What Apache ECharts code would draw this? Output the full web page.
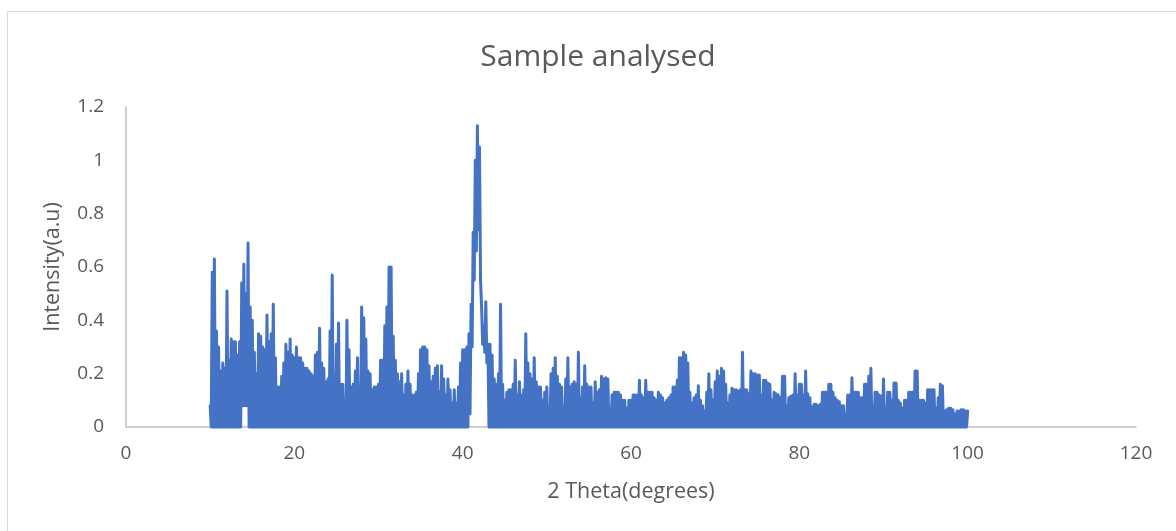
<!DOCTYPE html>
<html>
<head>
<meta charset="utf-8">
<title>Sample analysed</title>
<script src="https://cdn.jsdelivr.net/npm/echarts@6/dist/echarts.min.js"></script>
<style>
  html, body { margin: 0; padding: 0; background: #ffffff; }
  #chart { width: 1176px; height: 531px; }
</style>
</head>
<body>
<div id="chart"></div>
<script>
// Diffraction scan: 2θ from 10° to 100°, sampled every 0.25°.
const thetaStart = 10;
const thetaStep = 0.25;

// Local maxima at 10.00, 10.25, 10.50 ... 100.00 (one row per degree)
const peakIntensity = [
  0.08, 0.58, 0.63, 0.36,
  0.30, 0.21, 0.24, 0.22,
  0.51, 0.25, 0.33, 0.32,
  0.32, 0.27, 0.32, 0.54,
  0.61, 0.50, 0.69, 0.45,
  0.40, 0.28, 0.20, 0.35,
  0.34, 0.30, 0.29, 0.42,
  0.32, 0.35, 0.46, 0.26,
  0.15, 0.15, 0.19, 0.24,
  0.31, 0.28, 0.33, 0.27,
  0.26, 0.30, 0.26, 0.26,
  0.24, 0.22, 0.22, 0.21,
  0.20, 0.19, 0.27, 0.28,
  0.37, 0.24, 0.22, 0.17,
  0.18, 0.36, 0.57, 0.19,
  0.31, 0.39, 0.16, 0.16,
  0.10, 0.40, 0.29, 0.15,
  0.16, 0.21, 0.26, 0.15,
  0.45, 0.41, 0.33, 0.21,
  0.20, 0.14, 0.15, 0.15,
  0.16, 0.25, 0.25, 0.38,
  0.45, 0.60, 0.60, 0.34,
  0.25, 0.20, 0.17, 0.20,
  0.12, 0.16, 0.21, 0.16,
  0.12, 0.12, 0.13, 0.20,
  0.29, 0.30, 0.30, 0.29,
  0.23, 0.17, 0.19, 0.22,
  0.23, 0.13, 0.23, 0.18,
  0.12, 0.18, 0.14, 0.09,
  0.14, 0.09, 0.15, 0.24,
  0.29, 0.29, 0.30, 0.35,
  0.46, 0.73, 1.00, 1.13,
  1.05, 0.45, 0.38, 0.47,
  0.31, 0.31, 0.27, 0.18,
  0.16, 0.20, 0.46, 0.16,
  0.10, 0.13, 0.14, 0.14,
  0.16, 0.25, 0.12, 0.17,
  0.12, 0.14, 0.35, 0.24,
  0.20, 0.18, 0.26, 0.17,
  0.15, 0.15, 0.10, 0.13,
  0.15, 0.07, 0.20, 0.22,
  0.26, 0.19, 0.16, 0.15,
  0.07, 0.18, 0.26, 0.15,
  0.16, 0.17, 0.16, 0.28,
  0.11, 0.15, 0.23, 0.16,
  0.15, 0.15, 0.09, 0.17,
  0.13, 0.14, 0.19, 0.18,
  0.185, 0.18, 0.07, 0.12,
  0.13, 0.13, 0.13, 0.12,
  0.10, 0.10, 0.07, 0.10,
  0.10, 0.12, 0.12, 0.12,
  0.175, 0.12, 0.11, 0.175,
  0.13, 0.13, 0.13, 0.11,
  0.10, 0.13, 0.12, 0.11,
  0.09, 0.10, 0.11, 0.12,
  0.15, 0.15, 0.175, 0.26,
  0.26, 0.28, 0.27, 0.24,
  0.13, 0.09, 0.11, 0.12,
  0.155, 0.10, 0.08, 0.06,
  0.13, 0.20, 0.14, 0.10,
  0.17, 0.21, 0.19, 0.22,
  0.21, 0.16, 0.09, 0.12,
  0.145, 0.14, 0.14, 0.135,
  0.14, 0.28, 0.14, 0.14,
  0.125, 0.21, 0.20, 0.20,
  0.195, 0.195, 0.12, 0.175,
  0.175, 0.165, 0.16, 0.10,
  0.13, 0.125, 0.12, 0.11,
  0.19, 0.19, 0.08, 0.11,
  0.115, 0.12, 0.20, 0.12,
  0.16, 0.16, 0.12, 0.21,
  0.125, 0.11, 0.075, 0.085,
  0.085, 0.08, 0.085, 0.13,
  0.13, 0.13, 0.16, 0.16,
  0.13, 0.11, 0.10, 0.095,
  0.08, 0.08, 0.05, 0.12,
  0.12, 0.185, 0.13, 0.13,
  0.13, 0.11, 0.11, 0.16,
  0.16, 0.19, 0.22, 0.08,
  0.13, 0.13, 0.12, 0.115,
  0.18, 0.07, 0.13, 0.13,
  0.10, 0.165, 0.165, 0.10,
  0.09, 0.07, 0.10, 0.10,
  0.13, 0.13, 0.13, 0.21,
  0.21, 0.10, 0.10, 0.10,
  0.09, 0.14, 0.14, 0.14,
  0.14, 0.07, 0.11, 0.16,
  0.155, 0.06, 0.065, 0.07,
  0.07, 0.065, 0.05, 0.06,
  0.06, 0.065, 0.065, 0.06,
  0.06
];

// Local minima between the maxima, at 10.125, 10.375 ... 99.875 (one row per degree)
const valleyIntensity = [
  0, 0, 0, 0,   0, 0, 0, 0,   0, 0, 0, 0,   0, 0, 0, 0.08,   // 10-13
  0.08, 0.08, 0, 0,   0, 0, 0, 0,   0, 0, 0, 0,   0, 0, 0, 0, // 14-17
  0, 0, 0, 0,   0, 0, 0, 0,   0, 0, 0, 0,   0, 0, 0, 0,      // 18-21
  0, 0, 0, 0,   0, 0, 0, 0,   0, 0, 0, 0,   0, 0, 0, 0,      // 22-25
  0, 0, 0, 0,   0, 0, 0, 0,   0, 0, 0, 0,   0, 0, 0, 0,      // 26-29
  0, 0, 0, 0,   0, 0, 0, 0,   0, 0, 0, 0,   0, 0, 0, 0,      // 30-33
  0, 0, 0, 0,   0, 0, 0, 0,   0, 0, 0, 0,   0, 0, 0, 0,      // 34-37
  0, 0, 0, 0,   0, 0, 0, 0,                                  // 38-39
  0, 0, 0, 0.05,   0.30, 0.55, 0.66, 0.74,                   // 40-41
  0.55, 0.31, 0.28, 0.24,   0, 0, 0, 0,                      // 42-43
  0, 0, 0, 0,   0, 0, 0, 0,   0, 0, 0, 0,   0, 0, 0, 0,      // 44-47
  0, 0, 0, 0,   0, 0, 0, 0,   0, 0, 0, 0,   0, 0, 0, 0,      // 48-51
  0, 0, 0, 0,   0, 0, 0, 0,   0, 0, 0, 0,   0, 0, 0, 0,      // 52-55
  0, 0, 0, 0,   0, 0, 0, 0,   0, 0, 0, 0,   0, 0, 0, 0,      // 56-59
  0, 0, 0, 0,   0, 0, 0, 0,   0, 0, 0, 0,   0, 0, 0, 0,      // 60-63
  0, 0, 0, 0,   0, 0, 0, 0,   0, 0, 0, 0,   0, 0, 0, 0,      // 64-67
  0, 0, 0, 0,   0, 0, 0, 0,   0, 0, 0, 0,   0, 0, 0, 0,      // 68-71
  0, 0, 0, 0,   0, 0, 0, 0,   0, 0, 0, 0,   0, 0, 0, 0,      // 72-75
  0, 0, 0, 0,   0, 0, 0, 0,   0, 0, 0, 0,   0, 0, 0, 0,      // 76-79
  0, 0, 0, 0,   0, 0, 0, 0,   0, 0, 0, 0,   0, 0, 0, 0,      // 80-83
  0, 0, 0, 0,   0, 0, 0, 0,   0, 0, 0, 0,   0, 0, 0, 0,      // 84-87
  0, 0, 0, 0,   0, 0, 0, 0,   0, 0, 0, 0,   0, 0, 0, 0,      // 88-91
  0, 0, 0, 0,   0, 0, 0, 0,   0, 0, 0, 0,   0, 0, 0, 0,      // 92-95
  0, 0, 0, 0,   0, 0, 0, 0,   0, 0, 0, 0,   0, 0, 0, 0       // 96-99
];

const xTicks = { min: 0, max: 120, interval: 20 };
const yTicks = { min: 0, max: 1.2, interval: 0.2 };

// Merge maxima and minima into one ordered trace
const trace = [];
for (let i = 0; i < peakIntensity.length; i++) {
  trace.push([thetaStart + i * thetaStep, peakIntensity[i]]);
  if (i < valleyIntensity.length) {
    trace.push([thetaStart + (i + 0.5) * thetaStep, valleyIntensity[i]]);
  }
}

const textColor = '#595959';
const fontFamily = '"Open Sans", "Noto Sans", sans-serif';

const chart = echarts.init(document.getElementById('chart'), null, { renderer: 'canvas' });
chart.setOption({
  animation: false,
  backgroundColor: '#ffffff',
  graphic: [{
    type: 'rect',
    silent: true,
    shape: { x: 7.5, y: 11.5, width: 1180, height: 530 },
    style: { fill: 'none', stroke: '#d9d9d9', lineWidth: 1 }
  }],
  title: {
    text: 'Sample analysed',
    left: 593,
    textAlign: 'center',
    top: 37,
    textStyle: { fontFamily, fontSize: 30, fontWeight: 'normal', color: textColor }
  },
  grid: { left: 126, right: 40, top: 107, bottom: 104, containLabel: false },
  xAxis: {
    type: 'value',
    min: xTicks.min, max: xTicks.max, interval: xTicks.interval,
    name: '2 Theta(degrees)',
    nameLocation: 'middle',
    nameGap: 54,
    nameTextStyle: { fontFamily, fontSize: 21.5, color: textColor },
    axisLine: { show: true, lineStyle: { color: '#bfbfbf', width: 1.5 } },
    axisTick: { show: false },
    splitLine: { show: false },
    axisLabel: { fontFamily, fontSize: 19, color: textColor, margin: 17 }
  },
  yAxis: {
    type: 'value',
    min: yTicks.min, max: yTicks.max, interval: yTicks.interval,
    name: 'Intensity(a.u)',
    nameLocation: 'middle',
    nameGap: 62,
    nameTextStyle: { fontFamily, fontSize: 21.5, color: textColor },
    axisLine: { show: true, lineStyle: { color: '#bfbfbf', width: 1.5 } },
    axisTick: { show: false },
    splitLine: { show: false },
    axisLabel: {
      fontFamily, fontSize: 19, color: textColor, margin: 22,
      formatter: v => String(Math.round(v * 10) / 10)
    }
  },
  series: [{
    type: 'line',
    data: trace,
    showSymbol: false,
    sampling: null,
    clip: false,
    lineStyle: { color: '#4472C4', width: 3, cap: 'round', join: 'round' },
    itemStyle: { color: '#4472C4' }
  }]
});
</script>
</body>
</html>
